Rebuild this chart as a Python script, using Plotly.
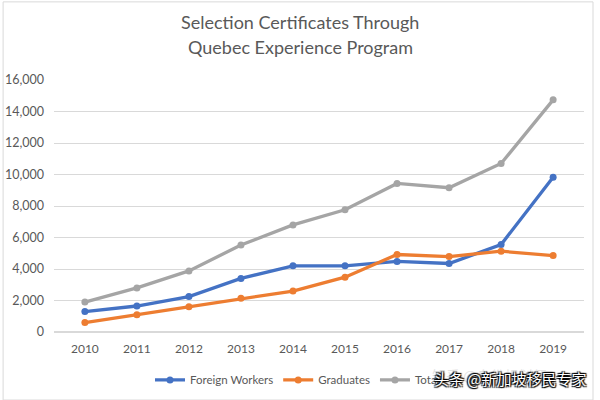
import plotly.graph_objects as go

years = ["2010", "2011", "2012", "2013", "2014", "2015", "2016", "2017", "2018", "2019"]
foreign_workers = [1300, 1650, 2250, 3400, 4200, 4200, 4480, 4350, 5550, 9830]
graduates = [600, 1100, 1600, 2150, 2600, 3480, 4920, 4790, 5130, 4850]
total = [1900, 2800, 3880, 5520, 6800, 7760, 9430, 9160, 10700, 14740]

series = [
    ("Foreign Workers", foreign_workers, "#4472C4"),
    ("Graduates", graduates, "#ED7D31"),
    ("Total", total, "#A5A5A5"),
]

fig = go.Figure()
for name, vals, col in series:
    fig.add_trace(go.Scatter(x=years, y=vals, name=name, mode="lines+markers",
                             line=dict(color=col, width=3.3),
                             marker=dict(color=col, size=7)))

fig.update_layout(
    width=600, height=400,
    margin=dict(l=54, r=16, t=80, b=68, autoexpand=False),
    paper_bgcolor="white", plot_bgcolor="white",
    font=dict(family="Lato, Open Sans, sans-serif", color="#595959", size=12),
    xaxis=dict(showgrid=False, showline=False, ticks="", tickfont=dict(size=12),
               automargin=False, ticklabelstandoff=8),
    yaxis=dict(range=[0, 16000], dtick=2000, tickformat=",", gridcolor="#D9D9D9",
               gridwidth=1, zeroline=True, zerolinecolor="#D9D9D9", ticks="",
               tickfont=dict(size=12.5), automargin=False, ticklabelstandoff=9),
    legend=dict(orientation="h", x=(150 - 54) / 530, xanchor="left", y=-0.19, yanchor="middle",
                font=dict(size=11.5, color="#595959"), itemwidth=30),
    showlegend=True,
)

# title, two centred lines
fig.add_annotation(text="Selection Certificates Through", xref="paper", yref="paper",
                   x=(300 - 54) / 530, y=1.232, xanchor="center", yanchor="middle",
                   showarrow=False, font=dict(size=18, color="#595959"))
fig.add_annotation(text="Quebec Experience Program", xref="paper", yref="paper",
                   x=(300 - 54) / 530, y=1.132, xanchor="center", yanchor="middle",
                   showarrow=False, font=dict(size=18, color="#595959"))

fig.add_shape(type="rect", xref="paper", yref="paper", x0=-0.096, x1=1.017, y0=-0.27, y1=1.31,
              line=dict(color="#D9D9D9", width=1), layer="below")

fig.add_annotation(text="知乎 @身份规划师", xref="paper", yref="paper", x=0.71, y=-0.17,
                   showarrow=False, xanchor="left", yanchor="middle",
                   font=dict(family="Noto Sans CJK SC", size=14, color="rgba(200,200,200,0.5)"))
fig.add_annotation(text="头条 @新加坡移民专家", xref="paper", yref="paper", x=0.714, y=-0.185,
                   showarrow=False, xanchor="left", yanchor="middle",
                   font=dict(family="Noto Sans CJK SC", size=15, color="white",
                             shadow="1px 1px 1px #000, -1px -1px 1px #000, 1px -1px 1px #000, -1px 1px 1px #000"))

fig.write_html("out.html", config={"displayModeBar": False},
               post_script="document.body.style.margin='0';")
